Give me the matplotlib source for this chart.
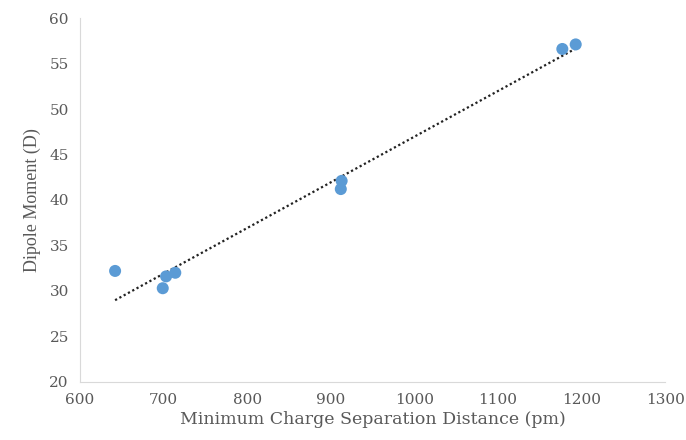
import numpy as np
import matplotlib.pyplot as plt

# charge separation (pm) vs dipole moment (D)
distance = [642, 699, 703, 714, 913, 912, 1177, 1193]
dipole = [32.2, 30.3, 31.6, 32.0, 42.1, 41.2, 56.6, 57.1]

x_ticks = [600, 700, 800, 900, 1000, 1100, 1200, 1300]
y_ticks = [20, 25, 30, 35, 40, 45, 50, 55, 60]

plt.rcParams['font.family'] = ['DejaVu Serif']

fig = plt.figure(figsize=(6.86, 4.4), dpi=100)
ax = fig.add_axes([0.1166, 0.132, 0.853, 0.827])

# linear trendline
slope, intercept = np.polyfit(distance, dipole, 1)
xs = np.array([min(distance), max(distance)])
ax.plot(xs, slope * xs + intercept, linestyle=(0, (1, 1.2)), color='#222222', lw=1.6, zorder=2)

ax.scatter(distance, dipole, s=75, color='#5b9bd5', edgecolors='none', zorder=3)

ax.set_xlim(600, 1300)
ax.set_ylim(20, 60)
ax.set_xticks(x_ticks)
ax.set_yticks(y_ticks)
ax.tick_params(length=0, labelsize=11, colors='#595959', pad=8)

for side in ['top', 'right']:
    ax.spines[side].set_visible(False)
for side in ['left', 'bottom']:
    ax.spines[side].set_color('#d9d9d9')

ax.set_xlabel('Minimum Charge Separation Distance (pm)', fontsize=12.5, color='#595959',
              labelpad=3, family='DejaVu Serif')
ax.set_ylabel('Dipole Moment (D)', fontsize=13, color='#595959', labelpad=6,
              family='Liberation Serif')

fig.savefig('out.png', dpi=100)
